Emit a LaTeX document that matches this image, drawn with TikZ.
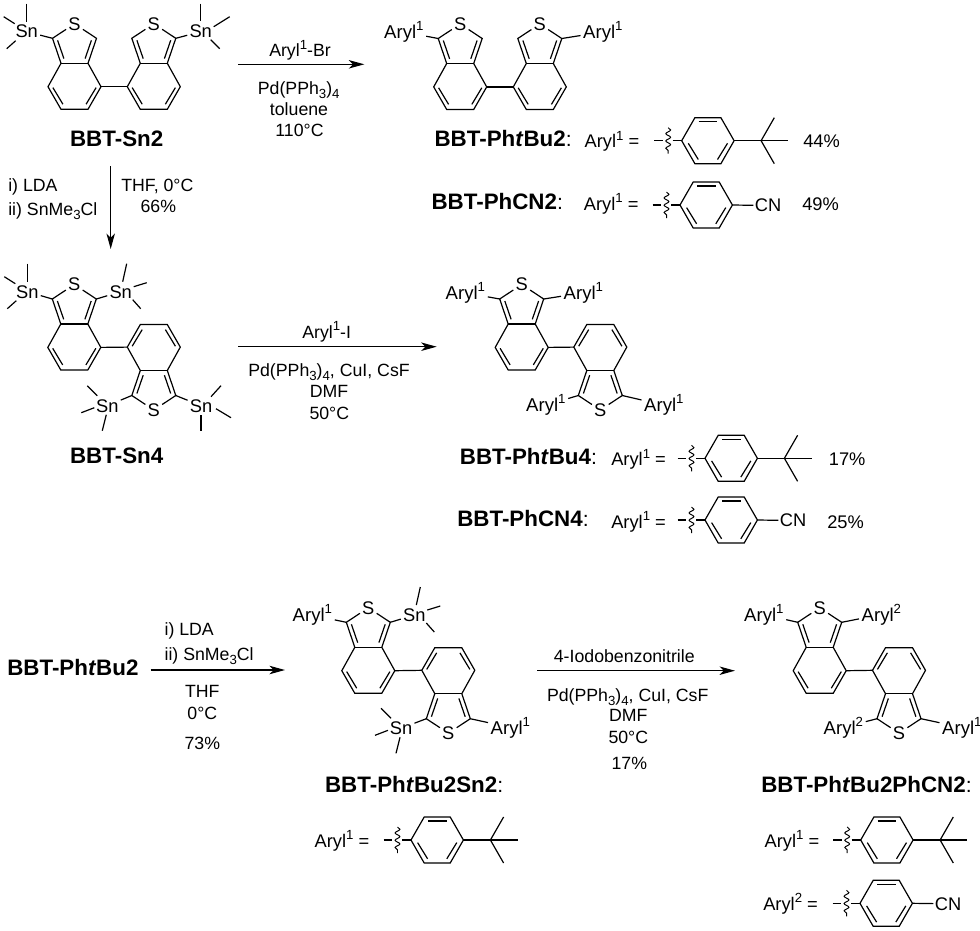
\documentclass[tikz,border=0pt]{standalone}
\usepackage{fontspec}
\setmainfont{Liberation Sans}
\usetikzlibrary{arrows.meta}
\usetikzlibrary{decorations.pathmorphing}
\newcommand{\upidx}[1]{\raisebox{0.42em}{\fontsize{9.4}{10}\selectfont #1}}
\newcommand{\dnidx}[1]{\raisebox{-0.24em}{\fontsize{9.4}{10}\selectfont #1}}
\newcommand{\arone}{Aryl\upidx{1}}
\newcommand{\artwo}{Aryl\upidx{2}}
\newcommand{\pdcat}{Pd(PPh\dnidx{3})\dnidx{4}}
% methyl ends round a tin label, given as x/y/x/y from its centre
\newcommand{\mel}{0/-28/0/-10,-23/-15/-12/-8,-20/17/-11/9}
\newcommand{\mer}{0/-28/0/-11,29/-15/13/-5,19/17/10/8}
\newcommand{\metr}{6/-28/2/-10,26/-9/13/-5,20/17/12/8}
\newcommand{\mell}{-20/-20/-10/-10,-26/7/-13/2,-5/25/-1/9}
\newcommand{\melr}{20/-20/10/-9,30/12/15/3,0/25/0/9}
\newcommand{\snme}[3]{
  \node [atom] (#1) at (#2) {Sn};
  \foreach \ax/\ay/\bx/\by in #3 {
    \draw ([shift={(\ax,\ay)}]#1.center) -- ([shift={(\bx,\by)}]#1.center);
  }
}
\tikzset{
  atom/.style = {font=\fontsize{13}{15}\selectfont, inner sep = 1.2pt},
  lbl/.style = {font=\fontsize{12.6}{15}\selectfont, inner sep = 0, anchor = base},
  lblw/.style = {lbl, anchor = base west},
  roweq/.style = {font=\fontsize{13}{15}\selectfont, inner sep = 0, anchor = base west},
  aryl/.style = {font=\fontsize{13.2}{15}\selectfont, inner sep = 1.5pt, anchor = base west},
  cmpd/.style = {font=\fontsize{15.9}{18}\selectfont, inner sep = 0, anchor = base west},
  rxn/.style = {-{Stealth[length = 11pt, width = 6pt, inset = 3pt]}},
  bbtunit/.pic = {
    \coordinate (-c1) at (-22, -25);
    \coordinate (-c3) at (22, -25);
    \coordinate (-c3a) at (13.5, 0);
    \coordinate (-c7a) at (-13.5, 0);
    \coordinate (-c4) at (26.5, 23.4);
    \coordinate (-c5) at (13.5, 46);
    \coordinate (-c6) at (-13.5, 46);
    \coordinate (-c7) at (-26.5, 23.4);
    \node [atom] (-s) at (0, -39.5) {S};
    \draw (-s) -- (-c1) -- (-c7a) -- (-c7) -- (-c6) -- (-c5) -- (-c4) -- (-c3a) -- (-c3) -- (-s);
    \draw (-c7a) -- (-c3a);
    \draw (-16.9, -23) -- (-10.6, -4.7);
    \draw (16.9, -23) -- (10.6, -4.7);
    \draw (-21.6, 24.3) -- (-11.6, 40.9);
    \draw (21.6, 24.3) -- (11.6, 40.9);
  },
  arylring/.pic = {
    \draw (-27.5, 0) -- (-19, 0);
    \draw (-9, 0) -- (0, 0);
    \draw [line width = 0.7pt, decorate, decoration = {snake, amplitude = 1.7pt, segment length = 5.2pt}] (-13.5, -13) -- (-13.5, 13);
    \draw (0, 0) -- (13.2, -23) -- (39.2, -23) -- (52.4, 0) -- (39.2, 23) -- (13.2, 23) -- cycle;
    \draw (17, -19) -- (35.5, -19);
    \draw (6.6, 2.6) -- (16.6, 18.8);
    \draw (45.8, 2.6) -- (35.8, 18.8);
  },
  tbuaryl/.pic = {
    \pic at (0, 0) {arylring};
    \draw (52.4, 0) -- (79.4, 0);
    \draw (92.6, -23) -- (79.4, 0) -- (92.6, 23);
    \draw (79.4, 0) -- (106.6, 0);
  },
  cnaryl/.pic = {
    \pic at (0, 0) {arylring};
    \node [atom, anchor = west, inner sep = 0.6pt] (-cn) at (73.4, 0.5) {CN};
    \draw (52.4, 0) -- (-cn);
  },
}

\begin{document}
\begin{tikzpicture}[x = 0.025cm, y = -0.025cm, line width = 0.85pt]
  \useasboundingbox (0, 0) rectangle (980, 930);

  % BBT-Sn2
  \pic (sa) at (74.5, 63.3) {bbtunit};
  \pic [xscale = -1] (sb) at (153.8, 63.3) {bbtunit};
  \draw (sa-c4) -- (sb-c4);
  \snme{sna}{26.7, 31.7}{\mel}
  \snme{snb}{200.7, 31.7}{\mer}
  \draw (sa-c1) -- (sna);
  \draw (sb-c1) -- (snb);
  \node [cmpd] (nsn2) at (69.5, 146) {\textbf{BBT-Sn2}};

  % first coupling
  \coordinate (ca) at (238.3, 64.3);
  \coordinate (cb) at (364.3, 64.3);
  \draw [rxn] (ca) -- (cb);
  \node [lbl] (ta) at (300, 56.7) {\arone-Br};
  \node [lbl] (tb) at (298.7, 94.3) {\pdcat};
  \node [lbl] (tc) at (299, 115.7) {toluene};
  \node [lbl] (td) at (299.5, 136) {110°C};

  % BBT-PhtBu2 and BBT-PhCN2
  \pic (pa) at (460.2, 63.5) {bbtunit};
  \pic [xscale = -1] (pb) at (539.8, 63.5) {bbtunit};
  \draw (pa-c4) -- (pb-c4);
  \node [aryl] (aa) at (381.5, 38.5) {\arone};
  \node [aryl] (ab) at (580.5, 38.5) {\arone};
  \draw (pa-c1) -- (aa);
  \draw (pb-c1) -- (ab);
  \node [cmpd] (nta) at (434, 146.5) {\textbf{BBT-Ph\textit{t}Bu2}\fontsize{15}{16}\selectfont:};
  \node [cmpd] (ntb) at (431, 209.5) {\textbf{BBT-PhCN2}\fontsize{15}{16}\selectfont:};
  \node [roweq] (ea) at (584, 147.7) {\arone\ =};
  \node [roweq] (eb) at (583.3, 210.5) {\arone\ =};
  \node [roweq] (ya) at (802.7, 147.7) {44\%};
  \node [roweq] (yb) at (801.7, 210.5) {49\%};

  % lithiation down
  \coordinate (cc) at (110.7, 166);
  \coordinate (cd) at (110.7, 249);
  \draw [rxn] (cc) -- (cd);
  \node [lblw] (tf) at (7.7, 191.7) {i) LDA};
  \node [lblw] (tg) at (7.7, 215.7) {ii) SnMe\dnidx{3}Cl};
  \node [lblw] (th) at (120.7, 191.7) {THF, 0°C};
  \node [lbl] (ti) at (158.3, 212.7) {66\%};

  % BBT-Sn4
  \pic (qa) at (74.3, 324) {bbtunit};
  \pic [rotate = 180] (qb) at (153.8, 370.5) {bbtunit};
  \draw (qa-c4) -- (qb-c4);
  \snme{snc}{27.3, 291.7}{\mel}
  \snme{snd}{120.7, 291.7}{\metr}
  \snme{sne}{107.3, 405.7}{\mell}
  \snme{snf}{201, 405.7}{\melr}
  \draw (qa-c1) -- (snc);
  \draw (qa-c3) -- (snd);
  \draw (qb-c3) -- (sne);
  \draw (qb-c1) -- (snf);
  \node [cmpd] (nsn4) at (69.5, 463) {\textbf{BBT-Sn4}};

  % second coupling
  \coordinate (ce) at (238.3, 346.7);
  \coordinate (cf) at (436.7, 346.7);
  \draw [rxn] (ce) -- (cf);
  \node [lbl] (tj) at (326.7, 338.3) {\arone-I};
  \node [lbl] (tk) at (329, 376) {\pdcat, CuI, CsF};
  \node [lbl] (tl) at (329, 397.3) {DMF};
  \node [lbl] (tm) at (329.3, 419) {50°C};

  % BBT-PhtBu4 and BBT-PhCN4
  \pic (ra) at (521.7, 324) {bbtunit};
  \pic [rotate = 180] (rb) at (600.3, 370.5) {bbtunit};
  \draw (ra-c4) -- (rb-c4);
  \node [aryl] (ac) at (443, 299.3) {\arone};
  \node [aryl] (ad) at (561, 299.3) {\arone};
  \node [aryl] (ae) at (523.5, 411.7) {\arone};
  \node [aryl] (af) at (641.5, 411.7) {\arone};
  \draw (ra-c1) -- (ac);
  \draw (ra-c3) -- (ad);
  \draw (rb-c3) -- (ae);
  \draw (rb-c1) -- (af);
  \node [cmpd] (ntc) at (459.3, 464.5) {\textbf{BBT-Ph\textit{t}Bu4}\fontsize{15}{16}\selectfont:};
  \node [cmpd] (ntd) at (456.7, 526.7) {\textbf{BBT-PhCN4}\fontsize{15}{16}\selectfont:};
  \node [roweq] (ec) at (610.7, 465.7) {\arone\ =};
  \node [roweq] (ed) at (610.7, 528.3) {\arone\ =};
  \node [roweq] (yc) at (828.3, 465.7) {17\%};
  \node [roweq] (yd) at (826.7, 528.3) {25\%};

  % third step
  \node [cmpd] (ntb2) at (6.7, 675) {\textbf{BBT-Ph\textit{t}Bu2}};
  \coordinate (cg) at (150.7, 670);
  \coordinate (ch) at (285, 670);
  \draw [rxn] (cg) -- (ch);
  \node [lblw] (tn) at (164, 635.7) {i) LDA};
  \node [lblw] (to) at (164, 660) {ii) SnMe\dnidx{3}Cl};
  \node [lbl] (tp) at (202.3, 697.7) {THF};
  \node [lbl] (tq) at (202.3, 719.3) {0°C};
  \node [lbl] (tr) at (202.3, 749) {73\%};

  % BBT-PhtBu2Sn2
  \pic (va) at (368.3, 647.3) {bbtunit};
  \pic [rotate = 180] (vb) at (448.3, 693.7) {bbtunit};
  \draw (va-c4) -- (vb-c4);
  \node [aryl] (ag) at (290, 621.7) {\arone};
  \node [aryl] (ah) at (488, 734) {\arone};
  \snme{sng}{414.3, 615}{\metr}
  \snme{snh}{401, 728.3}{\mell}
  \draw (va-c1) -- (ag);
  \draw (va-c3) -- (sng);
  \draw (vb-c3) -- (snh);
  \draw (vb-c1) -- (ah);
  \node [cmpd] (nte) at (324.5, 792.7) {\textbf{BBT-Ph\textit{t}Bu2Sn2}\fontsize{15}{16}\selectfont:};
  \node [roweq] (ee) at (314, 847.3) {\arone\ =};

  % fourth step
  \coordinate (ci) at (537.3, 670.7);
  \coordinate (cj) at (735, 670.7);
  \draw [rxn] (ci) -- (cj);
  \node [lbl] (ts) at (624.3, 662.3) {4-Iodobenzonitrile};
  \node [lbl] (tt) at (627.7, 701) {\pdcat, CuI, CsF};
  \node [lbl] (tu) at (628.3, 721.7) {DMF};
  \node [lbl] (tv) at (628.3, 743.3) {50°C};
  \node [lbl] (tw) at (629.3, 769.3) {17\%};

  % BBT-PhtBu2PhCN2
  \pic (wa) at (819.7, 647.3) {bbtunit};
  \pic [rotate = 180] (wb) at (899, 693.7) {bbtunit};
  \draw (wa-c4) -- (wb-c4);
  \node [aryl] (ai) at (741.5, 621) {\arone};
  \node [aryl] (aj) at (859, 621) {\artwo};
  \node [aryl] (ak) at (821, 734) {\artwo};
  \node [aryl] (al) at (939.5, 734) {\arone};
  \draw (wa-c1) -- (ai);
  \draw (wa-c3) -- (aj);
  \draw (wb-c3) -- (ak);
  \draw (wb-c1) -- (al);
  \node [cmpd] (ntf) at (760.7, 792.7) {\textbf{BBT-Ph\textit{t}Bu2PhCN2}\fontsize{15}{16}\selectfont:};
  \node [roweq] (ef) at (764, 847.3) {\arone\ =};
  \node [roweq] (eg) at (762.7, 910) {\artwo\ =};

  % aryl groups
  \foreach \n/\px/\py in {ga/681.7/140.7, gb/705/458.3, gc/411/840, gd/860.7/840} {
    \pic (\n) at (\px, \py) {tbuaryl};
  }
  \foreach \n/\px/\py in {ge/680/205, gf/705/520, gg/860/903.3} {
    \pic (\n) at (\px, \py) {cnaryl};
  }
\end{tikzpicture}
\end{document}
